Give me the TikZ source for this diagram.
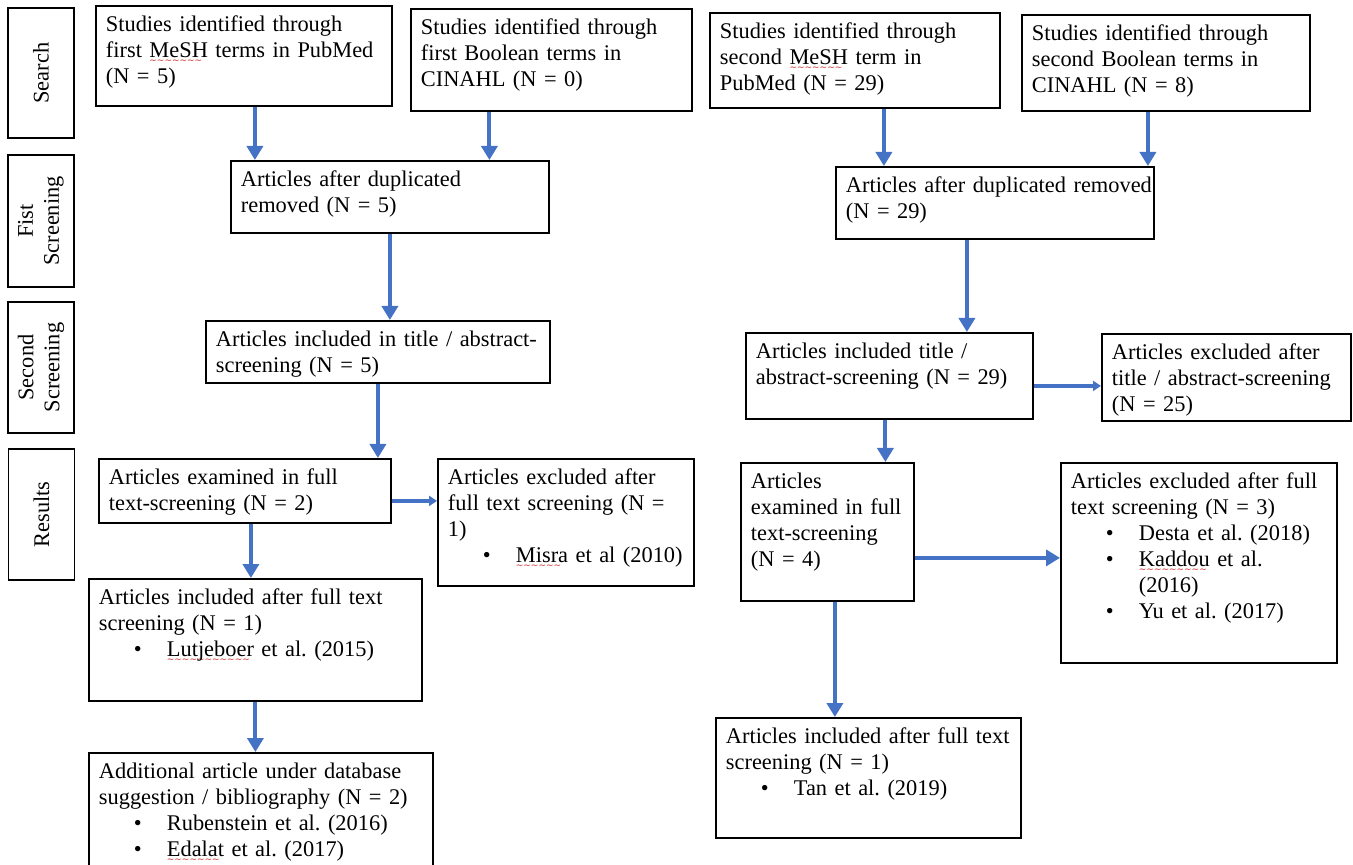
\documentclass[tikz,border=0pt]{standalone}
\usepackage{fontspec}
\setmainfont{Liberation Serif}
\newfontfamily\squigfont{DejaVu Sans}
\usetikzlibrary{arrows.meta}
\definecolor{arrblue}{RGB}{68,114,196}
\definecolor{spellred}{RGB}{210,40,40}
\frenchspacing
\newsavebox\spellbox
\newcommand\spell[1]{\sbox\spellbox{#1}\rlap{\raisebox{-3pt}[0pt][0pt]{\hbox to \wd\spellbox{\color{spellred}\fontsize{4.5}{4.5}\squigfont\leaders\hbox{\char"223C}\hfill}}}\usebox\spellbox}
\newcommand\bul{\hspace*{17.5pt}\makebox[16.5pt][l]{\textbullet}}
\tikzset{
  box/.style={draw, line width=0.9pt, anchor=north west, align=left,
    inner xsep=5pt, inner ysep=3pt, text height=10pt,
    font=\fontsize{11.2}{13}\selectfont},
  lbl/.style={draw, line width=0.9pt, rotate=90, align=center,
    minimum height=33pt, font=\fontsize{11.2}{13}\selectfont},
  arr/.style={color=arrblue, line width=2pt, -{Triangle[width=8pt,length=7pt]}},
  arrs/.style={color=arrblue, line width=2pt, -{Triangle[width=5pt,length=4pt]}}
}
\begin{document}
\begin{tikzpicture}[x=0.5pt,y=-0.5pt]
  \useasboundingbox (0,0) rectangle (1353,865);
  \clip (0,0) rectangle (1353,865);
  % stage labels
  \node[lbl, minimum width=65pt] (search) at (41,73) {Search};
  \node[lbl, minimum width=66pt] (first) at (41,221) {Fist\\Screening};
  \node[lbl, minimum width=65.5pt] (second) at (41,367.5) {Second\\Screening};
  \node[lbl, minimum width=65.5pt] (results) at (41.5,514.5) {Results};
  % left flow
  \node[box, text width=138pt, text depth=34pt] (sL1) at (95,5)
    {Studies identified through\\first \spell{MeSH} terms in PubMed\\(N = 5)};
  \node[box, text width=130.5pt, text depth=35pt] (sL2) at (410,8)
    {Studies identified through\\first Boolean terms in\\CINAHL (N = 0)};
  \node[box, text width=149pt, text depth=20pt] (sL3) at (230,160)
    {Articles after duplicated\\removed (N = 5)};
  \node[box, text width=162pt, text depth=15pt] (sL4) at (205,320)
    {Articles included in title / abstract-\\screening (N = 5)};
  \node[box, text width=136pt, text depth=16pt] (sL5) at (98,458)
    {Articles examined in full\\text-screening (N = 2)};
  \node[box, text width=118pt, text depth=47.5pt] (sL6) at (437,458)
    {Articles excluded after\\full text screening (N =\\1)\\\bul\spell{Misra} et al (2010)};
  \node[box, text width=156.5pt, text depth=45pt] (sL7) at (88,578)
    {Articles included after full text\\screening (N = 1)\\\bul\spell{Lutjeboer} et al. (2015)};
  \node[box, text width=162pt, text depth=54pt] (sL8) at (88,752)
    {Additional article under database\\suggestion / bibliography (N = 2)\\\bul Rubenstein et al. (2016)\\\bul\spell{Edalat} et al. (2017)};
  % right flow
  \node[box, text width=135pt, text depth=31.5pt] (sR1) at (709,12)
    {Studies identified through\\second \spell{MeSH} term in\\PubMed (N = 29)};
  \node[box, text width=134pt, text depth=32pt] (sR2) at (1021,14)
    {Studies identified through\\second Boolean terms in\\CINAHL (N = 8)};
  \node[box, text width=149pt, text depth=20pt] (sR3) at (835,166)
    {\mbox{Articles after duplicated removed}\\(N = 29)};
  \node[box, text width=133.5pt, text depth=27pt] (sR4) at (745,332)
    {Articles included title /\\abstract-screening (N = 29)};
  \node[box, text width=114.5pt, text depth=27.5pt] (sR5) at (1101,333)
    {Articles excluded after\\title / abstract-screening\\(N = 25)};
  \node[box, text width=76.5pt, text depth=53pt] (sR6) at (740,462)
    {Articles\\examined in full\\text-screening\\(N = 4)};
  \node[box, text width=128pt, text depth=84pt] (sR7) at (1060,462)
    {Articles excluded after full\\text screening (N = 3)\\\bul Desta et al. (2018)\\\bul\spell{Kaddou} et al.\\\hspace*{34pt}(2016)\\\bul Yu et al. (2017)};
  \node[box, text width=142.5pt, text depth=44pt] (sR8) at (715,717)
    {Articles included after full text\\screening (N = 1)\\\bul Tan et al. (2019)};
  % arrow start points
  \coordinate (oL1) at ([xshift=5.5pt]sL1.south);
  \coordinate (oL2) at ([xshift=-31pt]sL2.south);
  \coordinate (oL5) at ([xshift=3pt]sL5.south);
  \coordinate (eL5) at ([yshift=-5pt]sL5.east);
  \coordinate (oR1) at ([xshift=14.5pt]sR1.south);
  \coordinate (oR2) at ([xshift=-9pt]sR2.south);
  \coordinate (oR3) at ([xshift=-14pt]sR3.south);
  \coordinate (oR4) at ([xshift=-2pt]sR4.south);
  \coordinate (eR4) at ([yshift=-5pt]sR4.east);
  \coordinate (oR6) at ([xshift=3.75pt]sR6.south);
  \coordinate (eR6) at ([yshift=-13pt]sR6.east);
  % arrows
  \draw[arr] (oL1) -- (oL1 |- sL3.north);
  \draw[arr] (oL2) -- (oL2 |- sL3.north);
  \draw[arr] (sL3.south) -- (sL3.south |- sL4.north);
  \draw[arr] (sL4.south) -- (sL4.south |- sL5.north);
  \draw[arrs] (eL5) -- (eL5 -| sL6.west);
  \draw[arr] (oL5) -- (oL5 |- sL7.north);
  \draw[arr] (sL7.south) -- (sL7.south |- sL8.north);
  \draw[arr] (oR1) -- (oR1 |- sR3.north);
  \draw[arr] (oR2) -- (oR2 |- sR3.north);
  \draw[arr] (oR3) -- (oR3 |- sR4.north);
  \draw[arrs] (eR4) -- (eR4 -| sR5.west);
  \draw[arr] (oR4) -- (oR4 |- sR6.north);
  \draw[arr] (eR6) -- (eR6 -| sR7.west);
  \draw[arr] (oR6) -- (oR6 |- sR8.north);
\end{tikzpicture}
\end{document}
